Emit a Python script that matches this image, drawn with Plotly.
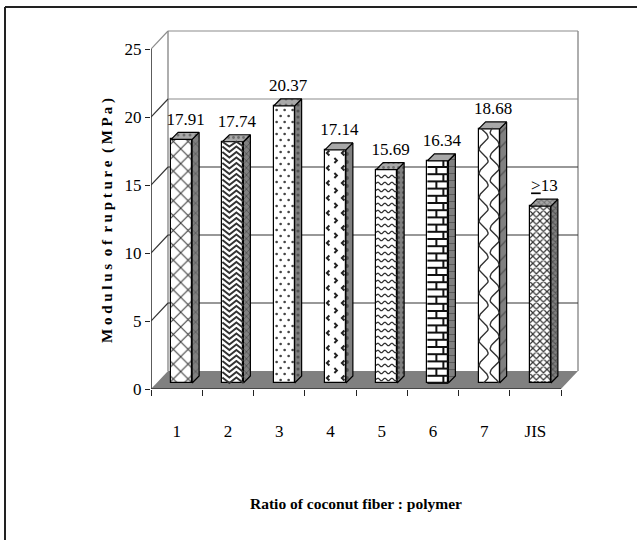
import numpy as np
import plotly.graph_objects as go

categories = ["1", "2", "3", "4", "5", "6", "7", "JIS"]
rupture_mpa = [17.91, 17.74, 20.37, 17.14, 15.69, 16.34, 18.68, 13]
value_labels = ["17.91", "17.74", "20.37", "17.14", "15.69", "16.34", "18.68", "<u>&gt;</u>13"]
y_ticks = [0, 5, 10, 15, 20, 25]

FONT = "Liberation Serif"
INK = "#222222"

# Screen scale of the plot: pixels per category and per MPa
PX_PER_CAT = 51.25
PX_PER_MPA = 13.6


def ux(px):
    return px / PX_PER_CAT


def uy(px):
    return px / PX_PER_MPA


# Oblique depth of the chart box and of each column
BOX_DX, BOX_DY = ux(17), uy(18)
BAR_DX, BAR_DY = ux(7), uy(7)
BAR_W = ux(21)
BAR_SHIFT = ux(5)
BAR_LIFT = uy(6)

n = len(categories)
centers = np.arange(n, dtype=float)
edges = np.arange(n + 1) - 0.5
X0, X1 = edges[0], edges[-1]


def front(i):
    c = centers[i] + BAR_SHIFT
    return c - BAR_W / 2, c + BAR_W / 2, BAR_LIFT, BAR_LIFT + rupture_mpa[i]


def paths(segments):
    xs, ys = [], []
    for sx, sy in segments:
        xs += list(sx) + [None]
        ys += list(sy) + [None]
    return xs, ys


def zigzag_rows(i, spacing, period, amp, samples_per_period=2, smooth=False):
    left, right, bottom, top = front(i)
    segs = []
    for row in np.arange(bottom + uy(spacing / 2), top, uy(spacing)):
        count = int(samples_per_period * (right - left) / ux(period)) + 1
        t = np.linspace(0, right - left, count)
        if smooth:
            wob = np.sin(2 * np.pi * t / ux(period))
        else:
            wob = np.where(np.arange(count) % 2 == 0, 1.0, -1.0)
        segs.append((left + t, np.clip(row + uy(amp) * wob, bottom, top)))
    return paths(segs)


def chevrons(i):
    left, right, bottom, top = front(i)
    segs = []
    for k, row in enumerate(np.arange(bottom + uy(5), top - uy(3), uy(7.5))):
        if k % 2:
            anchors = [(left + ux(12), 1)]
        else:
            anchors = [(left + ux(2), -1), (right - ux(4), -1)]
        for ax, sign in anchors:
            segs.append(
                (
                    [ax - sign * ux(2.5), ax, ax - sign * ux(2.5)],
                    [row + uy(2.5), row, row - uy(2.5)],
                )
            )
    return paths(segs)


def bricks(i):
    left, right, bottom, top = front(i)
    segs = []
    rows = np.arange(bottom, top, uy(7.2))
    for row in rows:
        segs.append(([left, right], [row, row]))
    for k, row in enumerate(rows):
        upper = min(row + uy(7.2), top)
        xv = left + ux(9) if k % 2 else left + ux(16)
        segs.append(([xv, xv], [row, upper]))
    return paths(segs)


def snakes(i):
    left, right, bottom, top = front(i)
    levels = np.arange(bottom, top + uy(1), uy(1.5))
    segs = []
    for offset, phase in ((5, 0.0), (16, 0.6 * np.pi)):
        s = np.sin(2 * np.pi * (levels - bottom) / uy(24) + phase)
        segs.append((np.clip(left + ux(offset) + ux(4.5) * s, left, right), levels))
    return paths(segs)


def dots(i):
    left, right, bottom, top = front(i)
    xs, ys = [], []
    for k, row in enumerate(np.arange(bottom + uy(3), top - uy(1), uy(6))):
        start = left + ux(3 if k % 2 else 7)
        for cx in np.arange(start, right - ux(1), ux(8)):
            xs.append(cx)
            ys.append(row)
    return xs, ys


# Fill patterns per column: (shape, size, solidity) for the flat faces
patterns = [
    ("x", 10.5, 0.18),
    ("", 6, 0.28),
    ("", 8, 0.1),
    ("", 9, 0.15),
    ("", 7, 0.22),
    ("", 7, 0.2),
    ("", 9, 0.2),
    ("x", 5, 0.42),
]
side_patterns = [
    ("x", 7, 0.18),
    ("x", 5, 0.3),
    (".", 6, 0.22),
    (".", 8, 0.18),
    (".", 5, 0.3),
    ("+", 7, 0.22),
    ("/", 10, 0.12),
    ("x", 4, 0.42),
]
top_patterns = [
    (".", 6, 0.2),
    (".", 5, 0.25),
    (".", 6, 0.2),
    ("", 6, 0.2),
    (".", 5, 0.25),
    ("", 6, 0.2),
    ("", 6, 0.2),
    ("x", 4, 0.42),
]

fig = go.Figure()

# Column fronts
fig.add_trace(
    go.Bar(
        x=centers + BAR_SHIFT,
        y=rupture_mpa,
        base=BAR_LIFT,
        width=BAR_W,
        marker=dict(
            color="white",
            line=dict(color="black", width=1.2),
            pattern=dict(
                shape=[p[0] for p in patterns],
                size=[p[1] for p in patterns],
                solidity=[p[2] for p in patterns],
                fgcolor="#333333",
                bgcolor="white",
                fillmode="replace",
            ),
        ),
        hoverinfo="skip",
        showlegend=False,
    )
)

# Column side and top faces
for i in range(n):
    left, right, bottom, top = front(i)
    sp = side_patterns[i]
    fig.add_trace(
        go.Scatter(
            x=[right, right + BAR_DX, right + BAR_DX, right, right],
            y=[bottom, bottom + BAR_DY, top + BAR_DY, top, bottom],
            mode="lines",
            fill="toself",
            fillcolor="#808080",
            fillpattern=dict(shape=sp[0], size=sp[1], solidity=sp[2], fgcolor="#222222", bgcolor="#808080"),
            line=dict(color="black", width=1.2),
            hoverinfo="skip",
            showlegend=False,
        )
    )
    tp = top_patterns[i]
    fig.add_trace(
        go.Scatter(
            x=[left, left + BAR_DX, right + BAR_DX, right, left],
            y=[top, top + BAR_DY, top + BAR_DY, top, top],
            mode="lines",
            fill="toself",
            fillcolor="#a8a8a8",
            fillpattern=dict(shape=tp[0], size=tp[1], solidity=tp[2], fgcolor="#333333", bgcolor="#a8a8a8"),
            line=dict(color="black", width=1.2),
            hoverinfo="skip",
            showlegend=False,
        )
    )


def texture(xy, width, color="#333333"):
    fig.add_trace(
        go.Scatter(
            x=xy[0],
            y=xy[1],
            mode="lines",
            line=dict(color=color, width=width),
            hoverinfo="skip",
            showlegend=False,
        )
    )


texture(zigzag_rows(1, 5.5, 11, 2.8), 1.9)
texture(chevrons(3), 2.0, "#222222")
texture(zigzag_rows(4, 7, 7, 1.3, samples_per_period=6, smooth=True), 1.4)
texture(bricks(5), 2.0, "#111111")
texture(snakes(6), 1.4)

dx3, dy3 = dots(2)
fig.add_trace(
    go.Scatter(
        x=dx3,
        y=dy3,
        mode="markers",
        marker=dict(size=2.6, color="#444444"),
        hoverinfo="skip",
        showlegend=False,
    )
)

# Value labels above each column
fig.add_trace(
    go.Scatter(
        x=centers + BAR_SHIFT + ux(4),
        y=[v + BAR_LIFT + BAR_DY + uy(3.5) for v in rupture_mpa],
        mode="text",
        text=value_labels,
        textposition="top center",
        textfont=dict(family=FONT, size=17, color="black"),
        hoverinfo="skip",
        showlegend=False,
        cliponaxis=False,
    )
)

# Axis lines, drawn to the ends of the value range only
fig.add_trace(
    go.Scatter(
        x=[X0, X0, None, X0, X1],
        y=[max(y_ticks), 0, None, 0, 0],
        mode="lines",
        line=dict(color="#333333", width=1.6),
        hoverinfo="skip",
        showlegend=False,
        cliponaxis=False,
    )
)

# Chart box behind the columns: floor, walls and gridlines
shapes = [
    dict(
        type="path",
        xref="x",
        yref="y",
        layer="below",
        path=(
            f"M {X0},0 L {X0 + BOX_DX},{BOX_DY} L {X1 + BOX_DX},{BOX_DY} L {X1},0 Z"
        ),
        fillcolor="#808080",
        line=dict(width=0),
    )
]
top_y = max(y_ticks) + BOX_DY
for xv in (X0 + BOX_DX, X1 + BOX_DX):
    shapes.append(
        dict(type="line", xref="x", yref="y", layer="below", x0=xv, x1=xv, y0=BOX_DY, y1=top_y,
             line=dict(color="#8c8c8c", width=1.4))
    )
for t in y_ticks[1:]:
    color = "#8c8c8c" if t in (20, 25) else "#333333"
    shapes.append(
        dict(type="line", xref="x", yref="y", layer="below", x0=X0 + BOX_DX, x1=X1 + BOX_DX,
             y0=t + BOX_DY, y1=t + BOX_DY, line=dict(color=color, width=1.2))
    )
    shapes.append(
        dict(type="line", xref="x", yref="y", layer="below", x0=X0, x1=X0 + BOX_DX,
             y0=t, y1=t + BOX_DY, line=dict(color="#8c8c8c" if t == 25 else "#333333", width=1.1))
    )

# Outer rules along the top and left of the page, in pixels converted to plot fractions
L, R, T, B = 151, 57, 30, 151
W, H = 637, 540
plot_w, plot_h = W - L - R, H - T - B


def paper_x(px):
    return (px - L) / plot_w


def paper_y(py):
    return (H - B - py) / plot_h


shapes.append(
    dict(type="line", xref="paper", yref="paper", layer="below",
         x0=paper_x(5), x1=paper_x(W), y0=paper_y(7), y1=paper_y(7),
         line=dict(color="#222222", width=2))
)
shapes.append(
    dict(type="line", xref="paper", yref="paper", layer="below",
         x0=paper_x(5), x1=paper_x(5), y0=paper_y(H), y1=paper_y(7),
         line=dict(color="#222222", width=2))
)

annotations = [
    dict(
        text="<b>M o d u l u s  o f  r u p t u r e  ( M P a )</b>",
        xref="paper", yref="paper", x=paper_x(107), y=paper_y(221),
        textangle=-90, showarrow=False, xanchor="center", yanchor="middle",
        font=dict(family=FONT, size=15, color="black"),
    ),
    dict(
        text="<b>Ratio of coconut fiber : polymer</b>",
        xref="paper", yref="paper", x=paper_x(356), y=paper_y(503),
        showarrow=False, xanchor="center", yanchor="middle",
        font=dict(family=FONT, size=15.5, color="black"),
    ),
]

fig.update_layout(
    width=W,
    height=H,
    margin=dict(l=L, r=R, t=T, b=B, pad=0),
    paper_bgcolor="white",
    plot_bgcolor="white",
    showlegend=False,
    bargap=0,
    shapes=shapes,
    annotations=annotations,
    xaxis=dict(
        range=[X0, X0 + plot_w / PX_PER_CAT],
        tickmode="array",
        tickvals=centers,
        ticktext=categories,
        ticks="outside",
        ticklen=27,
        tickcolor="rgba(0,0,0,0)",
        tickfont=dict(family=FONT, size=17, color="black"),
        minor=dict(tickmode="array", tickvals=edges, ticks="outside", ticklen=6, tickcolor=INK, tickwidth=1),
        showgrid=False,
        showline=False,
        zeroline=False,
        fixedrange=True,
    ),
    yaxis=dict(
        range=[0, plot_h / PX_PER_MPA],
        tickmode="array",
        tickvals=y_ticks,
        ticks="outside",
        ticklen=5,
        tickcolor=INK,
        tickwidth=1,
        tickfont=dict(family=FONT, size=17, color="black"),
        showgrid=False,
        showline=False,
        zeroline=False,
        fixedrange=True,
    ),
)

fig.write_html("out.html", config={"displayModeBar": False})
